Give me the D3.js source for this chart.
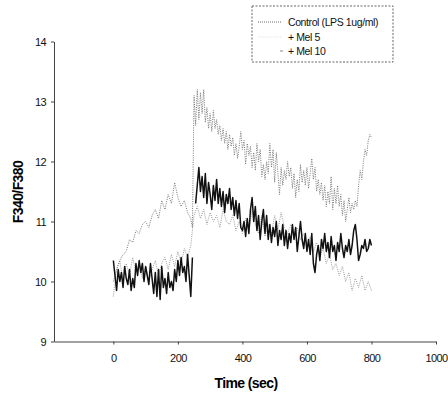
<!DOCTYPE html>
<html><head><meta charset="utf-8">
<script src="https://cdn.jsdelivr.net/npm/d3@7"></script>
<style>body{margin:0;background:#fff}svg{display:block}</style>
</head><body>
<script>
// ---- data ----
const xTicks = [0, 200, 400, 600, 800, 1000];
const yTicks = [9, 10, 11, 12, 13, 14];
const seriesNames = ["Control (LPS 1ug/ml)", "+ Mel 5", "+ Mel 10"];

// Control: 0..240 step 10, then 245..800 step 5
const controlPre = [10.0,10.2,10.35,10.45,10.5,10.7,10.65,10.85,10.8,10.95,11.0,10.9,11.1,11.2,11.05,11.35,11.2,11.45,11.3,11.65,11.4,11.25,11.35,11.15,11.05];
const controlPost = [10.9,13.1,12.6,13.2,12.7,13.15,12.8,13.2,12.65,12.9,12.55,12.8,12.5,12.85,12.55,12.7,12.45,12.6,12.35,12.55,12.3,12.5,12.2,12.45,12.25,12.4,12.1,12.3,12.05,12.25,12.5,12.2,12.35,11.95,12.3,12.1,12.25,11.9,12.15,11.85,12.3,12.0,12.2,11.75,11.95,11.7,12.0,11.8,12.3,11.9,12.2,11.65,12.15,11.8,11.45,11.9,11.6,11.85,11.7,12.0,11.75,11.9,11.55,11.8,11.4,11.7,11.5,11.95,11.65,11.85,11.6,11.9,11.55,11.8,12.05,11.7,11.9,11.5,11.7,11.45,11.65,11.35,11.6,11.25,11.5,11.3,11.75,11.2,11.55,11.3,11.6,11.25,11.45,11.1,11.35,11.0,11.2,11.4,11.15,11.3,11.2,11.35,11.25,11.6,11.85,11.7,12.0,12.2,12.1,12.35,12.45,12.4];
// Mel 5: 0..240 step 10, then 250..800 step 10
const mel5Pre = [9.75,10.2,10.35,10.0,10.3,10.1,10.4,10.15,10.3,10.05,10.25,10.0,10.2,10.35,10.1,10.3,10.4,10.2,10.45,10.25,10.5,10.3,10.55,10.4,10.6];
const mel5Post = [11.1,11.25,11.05,11.2,10.95,11.15,11.0,11.1,10.9,11.2,11.0,10.95,11.1,10.85,11.0,10.8,11.05,10.85,11.2,10.95,10.8,11.1,10.75,10.95,10.8,11.1,10.85,11.15,10.9,10.8,10.95,10.75,10.9,10.7,10.8,10.6,10.75,10.5,10.65,10.4,10.55,10.3,10.45,10.2,10.3,10.1,10.25,10.0,10.15,9.85,10.05,9.9,10.1,9.85,10.0,9.85];
// Mel 10: 0..245 step 5, then 255..800 step 5 (gap at 250)
const mel10Pre = [10.35,10.1,9.85,10.2,10.0,10.15,9.9,10.25,10.05,9.95,10.2,9.85,10.05,9.9,10.3,10.1,10.35,10.15,10.3,10.0,10.25,10.1,9.95,10.3,10.05,9.8,10.15,9.75,10.2,9.7,10.25,9.9,10.05,9.8,10.15,9.9,10.0,9.85,10.2,10.0,10.35,10.1,10.4,10.15,10.25,10.0,10.45,10.1,9.75,10.4];
const mel10Post = [11.3,11.6,11.9,11.5,11.75,11.4,11.8,11.3,11.65,11.45,11.2,11.6,11.35,11.7,11.3,11.55,11.25,11.5,11.15,11.45,11.3,11.55,11.2,11.4,11.1,11.35,11.05,11.3,10.9,10.85,11.0,10.75,11.05,10.8,11.2,11.4,11.0,11.25,10.85,11.1,10.7,11.0,11.2,10.8,11.1,10.7,10.95,10.65,10.9,10.75,11.0,10.6,10.85,10.7,10.95,10.6,10.85,10.55,10.8,10.65,10.95,10.7,10.9,10.5,10.75,11.0,10.7,10.55,10.8,10.5,10.7,10.45,10.8,10.3,10.15,10.45,10.6,10.35,10.7,10.55,10.8,10.5,10.65,10.4,10.75,10.5,10.6,10.35,10.65,10.5,10.8,10.55,10.4,10.6,10.5,10.7,10.45,10.6,10.85,10.95,10.7,10.35,10.45,10.6,10.55,10.7,10.5,10.55,10.7,10.6];

function pts(vals, t0, step){ return vals.map((v,i)=>({t:t0+i*step, v})); }
const control = pts(controlPre,0,10).concat(pts(controlPost,245,5));
const mel5 = pts(mel5Pre,0,10).concat(pts(mel5Post,250,10));
const mel10 = [pts(mel10Pre,0,5), pts(mel10Post,255,5)];

// ---- chart ----
const W=448,H=394;
const svg=d3.select("body").append("svg").attr("width",W).attr("height",H);
const x=d3.scaleLinear().domain([-184,1000]).range([54,436]);
const y=d3.scaleLinear().domain([9,14]).range([341.5,41.5]);
const axisCol="#444";
const font="Liberation Sans, Arial, sans-serif";

const line=d3.line().x(d=>x(d.t)).y(d=>y(d.v));
svg.append("path").datum(mel5).attr("d",line).attr("fill","none")
  .attr("stroke","#9a9a9a").attr("stroke-width",1).attr("stroke-dasharray","1,1.2");
svg.append("path").datum(control).attr("d",line).attr("fill","none")
  .attr("stroke","#777").attr("stroke-width",1).attr("stroke-dasharray","1,1.3");
mel10.forEach(seg=>svg.append("path").datum(seg).attr("d",line).attr("fill","none")
  .attr("stroke","#111").attr("stroke-width",1.5).attr("stroke-linejoin","round"));

// axes
const gx=svg.append("g").attr("transform",`translate(0,${y(9)})`)
  .call(d3.axisBottom(x).tickValues(xTicks).tickFormat(d3.format("d")).tickSize(3).tickPadding(10).tickSizeOuter(0));
const gy=svg.append("g").attr("transform",`translate(${x.range()[0]},0)`)
  .call(d3.axisLeft(y).tickValues(yTicks).tickFormat(d3.format("d")).tickSize(3).tickPadding(5).tickSizeOuter(0));
[gx,gy].forEach(g=>{
  g.select(".domain").attr("stroke",axisCol);
  g.selectAll(".tick line").attr("stroke",axisCol);
  g.selectAll("text").attr("font-family",font).attr("font-size",11).attr("fill","#111").attr("letter-spacing",-0.6);
});

svg.append("text").attr("x",246).attr("y",388).attr("text-anchor","middle")
  .attr("font-family",font).attr("font-weight","bold").attr("font-size",14).attr("letter-spacing",-0.6)
  .text("Time (sec)");
svg.append("text").attr("transform","translate(23,192) rotate(-90)").attr("text-anchor","middle")
  .attr("font-family",font).attr("font-weight","bold").attr("font-size",14).attr("letter-spacing",-0.6)
  .text("F340/F380");

// legend
const lg=svg.append("g");
lg.append("rect").attr("x",252).attr("y",6).attr("width",141).attr("height",56)
  .attr("fill","none").attr("stroke","#666").attr("stroke-width",1).attr("stroke-dasharray","2,1.5");
const legY=[22,37,51];
const legStyles=[{c:"#6e6e6e",d:"1,1",x1:258,x2:282},{c:"#dddddd",d:"1,1.2",x1:258,x2:282},{c:"#888",d:null,x1:280,x2:283}];
seriesNames.forEach((n,i)=>{
  const s=legStyles[i];
  const l=lg.append("line").attr("x1",s.x1).attr("x2",s.x2).attr("y1",legY[i]).attr("y2",legY[i])
    .attr("stroke",s.c).attr("stroke-width",1);
  if(s.d) l.attr("stroke-dasharray",s.d);
  lg.append("text").attr("x",288).attr("y",legY[i]+3.5).attr("font-family",font).attr("font-size",10.5)
    .attr("letter-spacing",-0.4).attr("fill","#111").text(n);
});
</script>
</body></html>
